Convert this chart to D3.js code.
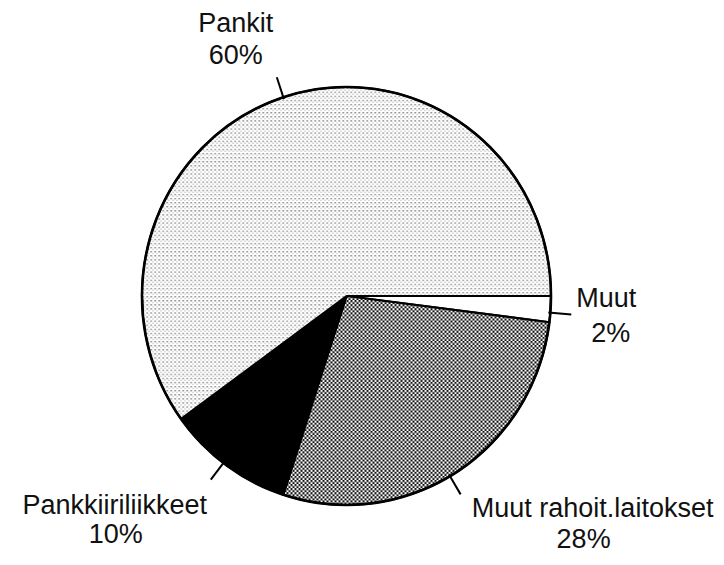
<!DOCTYPE html>
<html lang="fi">
<head>
<meta charset="UTF-8">
<title>Rahoituslaitokset</title>
<style>
  body { margin: 0; background: #fff; }
  text { font-family: "Liberation Sans", Arial, sans-serif; font-size: 27px; fill: #111; }
</style>
</head>
<body>
<script src="https://cdn.jsdelivr.net/npm/d3@7"></script>
<script>
// data, clockwise starting from 3 o'clock
const categories = ["Muut", "Muut rahoit.laitokset", "Pankkiiriliikkeet", "Pankit"];
const shares = [2, 28, 10, 60];
const pctLabels = ["2%", "28%", "10%", "60%"];

const fills = ["#fff", "url(#checker)", "#000", "url(#dots)"];
// leader angle tweak (deg) and label placement relative to leader end
const leaderTweak = [1, 2, 1, 0];
const labelPos = [
  {dx: 5, dy: -7, anchor: "start", px: 15, gap: 35},
  {dx: 132, dy: 23, anchor: "middle", px: -9, gap: 31},
  {dx: -96, dy: 34, anchor: "middle", px: 1, gap: 29},
  {dx: -41, dy: -45, anchor: "middle", px: 0, gap: 32}
];

const width = 724, height = 565;
const cx = 346.5, cy = 296, rx = 204.5, ry = 209;

const svg = d3.select("body").append("svg")
  .attr("width", width)
  .attr("height", height);

const defs = svg.append("defs");
const dots = defs.append("pattern")
  .attr("id", "dots").attr("patternUnits", "userSpaceOnUse")
  .attr("width", 4).attr("height", 4);
dots.append("rect").attr("width", 4).attr("height", 4).attr("fill", "#fff");
dots.append("rect").attr("width", 1.3).attr("height", 1.3).attr("fill", "#666");
dots.append("rect").attr("x", 2).attr("y", 2).attr("width", 1.1).attr("height", 1.1).attr("fill", "#aaa");

const checker = defs.append("pattern")
  .attr("id", "checker").attr("patternUnits", "userSpaceOnUse")
  .attr("width", 4).attr("height", 4);
checker.append("rect").attr("width", 4).attr("height", 4).attr("fill", "#fff");
checker.append("rect").attr("width", 2).attr("height", 2).attr("fill", "#111");
checker.append("rect").attr("x", 2).attr("y", 2).attr("width", 2).attr("height", 2).attr("fill", "#111");

const pie = d3.pie().sort(null).value(d => d)
  .startAngle(Math.PI / 2).endAngle(Math.PI / 2 + 2 * Math.PI);
const arcs = pie(shares);
const arc = d3.arc().innerRadius(0).outerRadius(rx);

// slightly taller than wide, like the scanned original
const g = svg.append("g")
  .attr("transform", `translate(${cx},${cy}) scale(1,${ry / rx})`);

g.selectAll("path")
  .data(arcs)
  .enter().append("path")
    .attr("d", arc)
    .attr("fill", (d, i) => fills[i])
    .attr("stroke", "#000")
    .attr("stroke-width", 2)
    .attr("stroke-linejoin", "round");

g.append("circle").attr("r", rx).attr("fill", "none")
  .attr("stroke", "#000").attr("stroke-width", 2.6);

const labelLayer = svg.append("g").attr("transform", `translate(${cx},${cy})`);

// leader lines
const leaders = arcs.map((d, i) => {
  const a = (d.startAngle + d.endAngle) / 2 + leaderTweak[i] * Math.PI / 180;
  const s = Math.sin(a), c = -Math.cos(a);
  return {
    x1: s * (rx - 2), y1: c * (ry - 2),
    x2: s * (rx + 21), y2: c * (ry + 21)
  };
});

labelLayer.selectAll("line.leader")
  .data(leaders)
  .enter().append("line")
    .attr("class", "leader")
    .attr("x1", d => d.x1).attr("y1", d => d.y1)
    .attr("x2", d => d.x2).attr("y2", d => d.y2)
    .attr("stroke", "#000").attr("stroke-width", 2);

const labels = labelLayer.selectAll("g.lab")
  .data(arcs)
  .enter().append("g")
    .attr("class", "lab")
    .attr("transform", (d, i) =>
      `translate(${leaders[i].x2 + labelPos[i].dx},${leaders[i].y2 + labelPos[i].dy})`);

labels.append("text")
  .attr("text-anchor", (d, i) => labelPos[i].anchor)
  .text((d, i) => categories[i]);

labels.append("text")
  .attr("text-anchor", (d, i) => labelPos[i].anchor)
  .attr("x", (d, i) => labelPos[i].px)
  .attr("y", (d, i) => labelPos[i].gap)
  .text((d, i) => pctLabels[i]);
</script>
</body>
</html>
